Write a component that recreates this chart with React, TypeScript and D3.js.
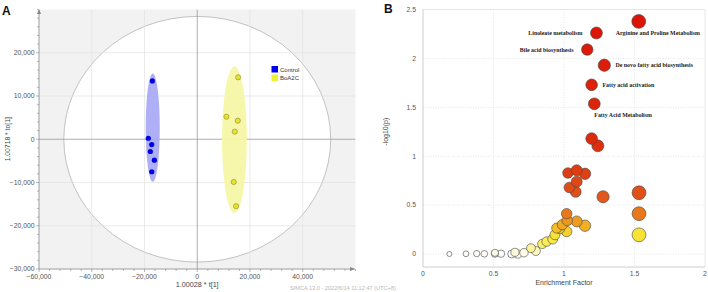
import React from "react";
import * as d3 from "d3";

// ---------- Panel A data (OPLS-DA scores) ----------
const controlT = [-17020, -18550, -17260, -17790, -16260, -17260];
const controlTo = [13490, 230, -1220, -2830, -4830, -7510];
const boaT = [15500, 11050, 15370, 14220, 13840, 14730];
const boaTo = [14320, 5210, 4290, 1760, -9890, -15480];
const groupNames = ["Control", "BoA2C"];
const aXTicks = [-60000, -40000, -20000, 0, 20000, 40000];
const aYTicks = [-30000, -20000, -10000, 0, 10000, 20000];

// ---------- Panel B data (enrichment) ----------
const enrichment = [
  1.53, 1.23, 1.165, 1.286, 1.196, 1.215, 1.196, 1.24, 1.028, 1.09, 1.149, 1.09, 1.038, 1.083,
  1.277, 1.532, 1.532, 1.532, 1.019, 1.023, 1.09, 1.149, 0.988, 0.948, 1.019, 0.97, 0.936, 0.92,
  0.877, 0.846, 0.8, 0.766, 0.716, 0.652, 0.672, 0.629, 0.553, 0.51, 0.51, 0.435, 0.381, 0.305, 0.187,
];
const logP = [
  2.378, 2.26, 2.09, 1.93, 1.73, 1.536, 1.18, 1.106, 0.828, 0.856, 0.82, 0.739, 0.68, 0.636,
  0.585, 0.626, 0.412, 0.196, 0.412, 0.343, 0.333, 0.289, 0.3, 0.265, 0.23, 0.26, 0.196, 0.152,
  0.127, 0.103, 0.031, 0.06, 0.013, 0.017, 0.0, 0.0, 0.003, 0.003, 0.012, 0.002, 0.004, 0.002, 0.0,
];
const labelNames = [
  "Arginine and Proline Metabolism",
  "Linoleate metabolism",
  "Bile acid biosynthesis",
  "De novo fatty acid biosynthesis",
  "Fatty acid activation",
  "Fatty Acid Metabolism",
];
const labelSide = ["right", "left", "left", "right", "right", "below"];
const bXTicks = [0, 0.5, 1, 1.5, 2];
const bYTicks = [0, 0.5, 1, 1.5, 2, 2.5];

const sans = "Arial, 'Liberation Sans', sans-serif";
const serif = "'Liberation Serif', 'Times New Roman', serif";

function PanelA() {
  const x = d3.scaleLinear().domain([-60000, 60000]).range([39, 355.5]);
  const y = d3.scaleLinear().domain([-30000, 30000]).range([269, 9.5]);
  const minorX = d3.range(-60000, 60001, 4000);
  const minorY = d3.range(-30000, 30001, 2000);
  const fmt = d3.format(",");
  return (
    <g>
      <defs>
        <clipPath id="clipA">
          <rect x={39} y={9.5} width={316.5} height={259.5} />
        </clipPath>
      </defs>
      <rect x={39} y={9.5} width={316.5} height={259.5} fill="#f2f2f2" />
      <g clipPath="url(#clipA)">
        <ellipse
          cx={x(0)}
          cy={y(0)}
          rx={x(50600) - x(0)}
          ry={y(0) - y(28400)}
          fill="#ffffff"
          stroke="#b4b4b4"
          strokeWidth={0.8}
        />
        {aXTicks.filter((t) => t !== 0 && t !== -60000).map((t) => (
          <line key={"gx" + t} x1={x(t)} x2={x(t)} y1={9.5} y2={269} stroke="#e2e2e2" strokeWidth={0.7} />
        ))}
        {aYTicks.filter((t) => t !== 0 && t !== -30000).map((t) => (
          <line key={"gy" + t} x1={39} x2={355.5} y1={y(t)} y2={y(t)} stroke="#e2e2e2" strokeWidth={0.7} />
        ))}
        <line x1={x(0)} x2={x(0)} y1={9.5} y2={269} stroke="#9a9a9a" strokeWidth={0.8} />
        <line x1={39} x2={355.5} y1={y(0)} y2={y(0)} stroke="#9a9a9a" strokeWidth={0.8} />
        <ellipse
          cx={x(-16880)}
          cy={y(2675)}
          rx={x(2670) - x(0)}
          ry={y(0) - y(12500)}
          fill="#a6a6f4"
          opacity={0.9}
        />
        <ellipse
          cx={x(14100)}
          cy={y(-140)}
          rx={x(4700) - x(0)}
          ry={y(0) - y(17000)}
          fill="#f7f7a6"
          opacity={0.95}
        />
        {controlT.map((t, i) => (
          <circle key={"c" + i} cx={x(t)} cy={y(controlTo[i])} r={2.6} fill="#0000e6" />
        ))}
        {boaT.map((t, i) => (
          <circle key={"b" + i} cx={x(t)} cy={y(boaTo[i])} r={2.6} fill="#e8e22a" stroke="#8a8a40" strokeWidth={0.6} />
        ))}
      </g>
      {/* axes */}
      <line x1={39} x2={39} y1={269} y2={10} stroke="#888" strokeWidth={0.8} />
      <path d="M37,14 L39,9 L41,14 Z" fill="#888" />
      <line x1={39} x2={355} y1={269} y2={269} stroke="#888" strokeWidth={0.8} />
      <path d="M350,267 L355,269 L350,271 Z" fill="#888" />
      {minorX.map((t) => (
        <line key={"mx" + t} x1={x(t)} x2={x(t)} y1={269} y2={aXTicks.includes(t) ? 272 : 271} stroke="#888" strokeWidth={0.6} />
      ))}
      {minorY.map((t) => (
        <line key={"my" + t} x1={aYTicks.includes(t) ? 36 : 37} x2={39} y1={y(t)} y2={y(t)} stroke="#888" strokeWidth={0.6} />
      ))}
      {aXTicks.map((t) => (
        <text key={"xl" + t} x={x(t)} y={278.5} fontSize={6.8} fill="#555" fontFamily={sans} textAnchor="middle">
          {fmt(t)}
        </text>
      ))}
      {aYTicks.map((t) => (
        <text key={"yl" + t} x={34.5} y={y(t) + 2.4} fontSize={6.8} fill="#555" fontFamily={sans} textAnchor="end">
          {fmt(t)}
        </text>
      ))}
      <text x={x(0)} y={287} fontSize={7.2} fill="#444" fontFamily={sans} textAnchor="middle">
        1.00028 * t[1]
      </text>
      <text
        transform={`translate(9.5,${y(0)}) rotate(-90)`}
        fontSize={6.8}
        fill="#444"
        fontFamily={sans}
        textAnchor="middle"
      >
        1.00718 * to[1]
      </text>
      <text x={290} y={290} fontSize={5.6} fill="#b8b8b8" fontFamily={sans}>
        SIMCA 13.0 - 2022/6/14 11:12:47 (UTC+8)
      </text>
      {/* legend */}
      {groupNames.map((g, i) => (
        <g key={g}>
          <rect x={271.5} y={66 + i * 8.5} width={6.5} height={6.5} fill={i === 0 ? "#0000f0" : "#f0f030"} />
          <text x={280} y={71.8 + i * 8.5} fontSize={6} fill="#333" fontFamily={sans}>
            {g}
          </text>
        </g>
      ))}
      <text x={2} y={14.5} fontSize={12} fontWeight="bold" fontFamily={sans} fill="#111">
        A
      </text>
    </g>
  );
}

function PanelB() {
  const x = d3.scaleLinear().domain([0, 2]).range([423, 705]);
  const y = d3.scaleLinear().domain([-0.133, 2.5]).range([267, 9.5]);
  const r = d3.scaleLinear().domain([0.18, 1.55]).range([2.5, 7]);
  const color = d3
    .scaleLinear<string>()
    .domain([0, 0.03, 0.1, 0.2, 0.3, 0.42, 0.62, 0.85, 1.2, 2.4])
    .range(["#ffffff", "#fff6c0", "#faf06a", "#f8e232", "#f0aa22", "#e8741c", "#e0521a", "#de3c12", "#dc2a0c", "#dc1408"])
    .clamp(true);
  const order = d3.range(enrichment.length).sort((a, b) => logP[a] - logP[b]);
  const left = 423,
    right = 705,
    top = 9.5,
    bottom = 267;
  return (
    <g>
      {bXTicks.filter((t) => t > 0 && t < 2).map((t) => (
        <line key={"gx" + t} x1={x(t)} x2={x(t)} y1={top} y2={bottom} stroke="#dcdcdc" strokeWidth={0.7} strokeDasharray="1,1.5" />
      ))}
      {bYTicks.map((t) => (
        <line key={"gy" + t} x1={left} x2={right} y1={y(t)} y2={y(t)} stroke="#dcdcdc" strokeWidth={0.7} strokeDasharray="1,1.5" />
      ))}
      <line x1={left} x2={right} y1={top} y2={top} stroke="#e2e2e2" strokeWidth={0.8} />
      <line x1={right} x2={right} y1={top} y2={bottom} stroke="#e2e2e2" strokeWidth={0.8} />
      <line x1={left} x2={left} y1={top} y2={bottom} stroke="#c8c8c8" strokeWidth={0.9} />
      <line x1={left} x2={right} y1={bottom} y2={bottom} stroke="#c8c8c8" strokeWidth={0.9} />
      {bXTicks.map((t) => (
        <text key={"xl" + t} x={x(t)} y={275.5} fontSize={6.8} fill="#555" fontFamily={sans} textAnchor="middle">
          {t}
        </text>
      ))}
      {bYTicks.map((t) => (
        <text key={"yl" + t} x={416} y={y(t) + 2.4} fontSize={6.8} fill="#555" fontFamily={sans} textAnchor="end">
          {t}
        </text>
      ))}
      <text x={x(1)} y={284.5} fontSize={7} fill="#444" fontFamily={sans} textAnchor="middle">
        Enrichment Factor
      </text>
      <text transform={`translate(388,${y(1.25)}) rotate(-90)`} fontSize={7} fill="#444" fontFamily={sans} textAnchor="middle">
        -log10(p)
      </text>
      {order.map((i) => (
        <circle
          key={"p" + i}
          cx={x(enrichment[i])}
          cy={y(logP[i])}
          r={r(enrichment[i])}
          fill={color(logP[i])}
          stroke="#444"
          strokeWidth={0.6}
        />
      ))}
      {labelNames.map((name, i) => {
        const cx = x(enrichment[i]);
        const cy = y(logP[i]);
        const rr = r(enrichment[i]);
        const side = labelSide[i];
        let tx = cx + rr + 5;
        let ty = cy + 2;
        let anchor = "start";
        if (side === "left") {
          tx = cx - rr - 8;
          anchor = "end";
        } else if (side === "below") {
          tx = cx;
          ty = cy + 13.5;
        } else if (i === 0) {
          tx = cx - 23;
          ty = cy + 14;
        }
        return (
          <text key={name} x={tx} y={ty} fontSize={5.9} fontWeight="bold" fontFamily={serif} fill="#222" textAnchor={anchor}>
            {name}
          </text>
        );
      })}
      <text x={384} y={13} fontSize={12} fontWeight="bold" fontFamily={sans} fill="#111">
        B
      </text>
    </g>
  );
}

export default function App() {
  return (
    <svg
      width={708}
      height={292}
      viewBox="0 0 708 292"
      style={{ position: "absolute", left: 0, top: 0, background: "#fff" }}
    >
      <PanelA />
      <PanelB />
    </svg>
  );
}
